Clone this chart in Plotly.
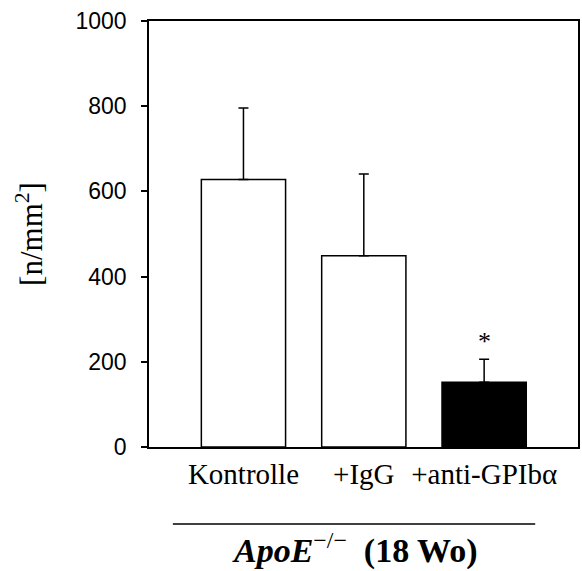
import plotly.graph_objects as go

categories = ["Kontrolle", "+IgG", "+anti-GPIbα"]
values = [628, 449, 152]
err_plus = [168, 192, 54]
fill_colors = ["white", "white", "black"]
y_ticks = [0, 200, 400, 600, 800, 1000]

fig = go.Figure()
fig.add_trace(go.Bar(
    x=[0, 1, 2],
    y=values,
    width=0.70,
    marker=dict(color=fill_colors, line=dict(color="black", width=1.5)),
    error_y=dict(type="data", symmetric=False, array=err_plus,
                 arrayminus=[0, 0, 0], color="black", thickness=1.5, width=5),
    showlegend=False,
))

fig.add_annotation(x=2, y=248, xref="x", yref="y", text="*", showarrow=False,
                   font=dict(family="Liberation Serif", size=26, color="black"),
                   yanchor="middle")

fig.add_shape(type="line", xref="paper", yref="paper",
              x0=(173 - 149) / 431, x1=(537 - 149) / 431,
              y0=-77 / 426, y1=-77 / 426,
              line=dict(color="black", width=1.5))

fig.add_annotation(x=(355 - 149) / 431, y=-101 / 426, xref="paper", yref="paper",
                   text="<b><i>ApoE</i></b><sup>−/−</sup><b>  (18 Wo)</b>",
                   showarrow=False, xanchor="center", yanchor="middle",
                   font=dict(family="Liberation Serif", size=34, color="black"))

fig.update_layout(
    width=582, height=571,
    margin=dict(l=149, r=2, t=21, b=124),
    paper_bgcolor="white", plot_bgcolor="white",
    bargap=0.3,
    xaxis=dict(range=[-0.785, 2.78], tickmode="array", tickvals=[0, 1, 2],
               ticktext=categories, showline=True, linecolor="black", linewidth=1.5,
               mirror=True, ticks="", showgrid=False, zeroline=False,
               tickfont=dict(family="Liberation Serif", size=29, color="black")),
    yaxis=dict(range=[0, 1000], tickmode="array", tickvals=y_ticks,
               showline=True, linecolor="black", linewidth=1.5, mirror=True,
               ticks="outside", ticklen=6, tickwidth=1.5, tickcolor="black",
               showgrid=False, zeroline=False, ticklabelstandoff=10,
               tickfont=dict(family="Liberation Sans", size=23, color="black"),
               title=dict(text="[n/mm<sup>2</sup>]", standoff=24,
                          font=dict(family="Liberation Serif", size=31, color="black"))),
)

fig.write_html("out.html", config={"displayModeBar": False},
               post_script="document.body.style.margin='0';document.body.style.overflow='hidden';")
